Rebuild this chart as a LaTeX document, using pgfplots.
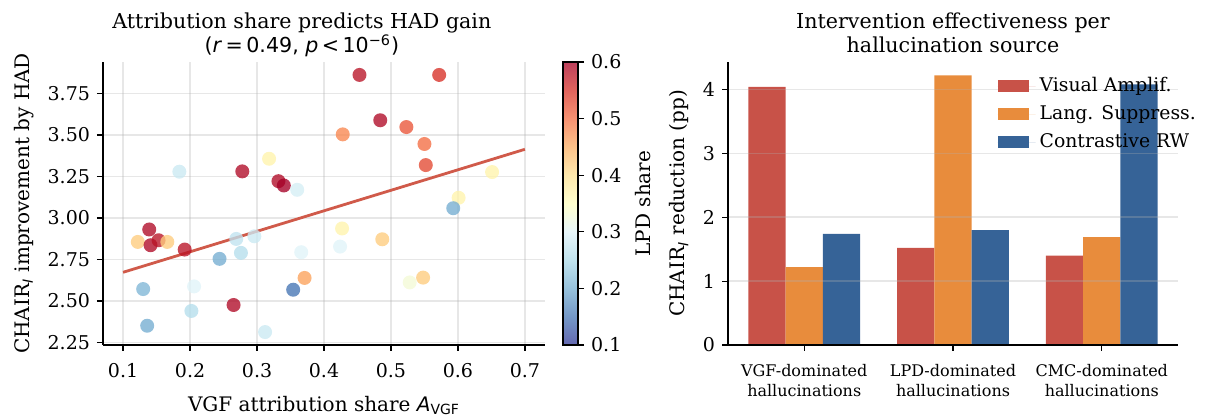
\documentclass[border=0pt]{standalone}
\usepackage{fontspec}
\setmainfont{DejaVu Serif}
\newfontfamily\dvs{DejaVu Sans}
\usepackage{pgfplots}
\pgfplotsset{compat=1.18}

\definecolor{gridc}{RGB}{176,176,176}
\definecolor{fitc}{RGB}{208,90,74}
\definecolor{cred}{RGB}{200,82,72}
\definecolor{corange}{RGB}{232,140,60}
\definecolor{cblue}{RGB}{54,99,151}

% RdYlBu reversed; the light one is what 0.75 alpha gives on white
\pgfplotsset{
  colormap={rdylbu}{rgb255=(49,54,149) rgb255=(69,117,180) rgb255=(116,173,209)
    rgb255=(171,217,233) rgb255=(224,243,248) rgb255=(255,255,191) rgb255=(254,224,144)
    rgb255=(253,174,97) rgb255=(244,109,67) rgb255=(215,48,39) rgb255=(165,0,38)},
  colormap={rdylbulight}{rgb255=(100,104,176) rgb255=(116,152,199) rgb255=(151,194,220)
    rgb255=(192,227,238) rgb255=(232,246,250) rgb255=(255,255,207) rgb255=(254,232,172)
    rgb255=(253,194,137) rgb255=(247,146,114) rgb255=(225,100,93) rgb255=(188,64,92)},
}

% attribution share (x), HAD gain (y), LPD share (c)
\pgfplotstableread{
x y c
0.184 3.279 0.28
0.278 3.281 0.59
0.318 3.357 0.37
0.332 3.222 0.59
0.340 3.196 0.60
0.360 3.170 0.29
0.139 2.931 0.59
0.122 2.856 0.42
0.141 2.836 0.59
0.153 2.866 0.58
0.166 2.856 0.42
0.192 2.810 0.58
0.269 2.874 0.27
0.296 2.890 0.28
0.276 2.790 0.26
0.366 2.794 0.30
0.244 2.754 0.20
0.371 2.639 0.46
0.130 2.572 0.21
0.206 2.588 0.30
0.354 2.568 0.15
0.265 2.476 0.59
0.202 2.440 0.26
0.136 2.351 0.20
0.312 2.313 0.28
0.453 3.862 0.58
0.572 3.862 0.55
0.484 3.589 0.59
0.523 3.548 0.52
0.428 3.504 0.48
0.550 3.446 0.50
0.552 3.319 0.53
0.651 3.277 0.37
0.601 3.122 0.37
0.593 3.059 0.20
0.427 2.937 0.37
0.424 2.828 0.30
0.487 2.872 0.42
0.548 2.641 0.42
0.528 2.612 0.33
}\scatterdata

\begin{document}
\begin{tikzpicture}
\useasboundingbox (-51.5pt,-35.5pt) rectangle (555.5pt,172.5pt);
\pgfplotsset{
  base/.style={
    scale only axis, height=141.5pt,
    axis lines*=left,
    axis line style={black, line width=0.6pt, -},
    tick style={black, line width=0.6pt},
    tick align=outside, major tick length=3pt,
    xtick pos=left, ytick pos=left,
    tick label style={font=\fontsize{9.5}{11}\selectfont},
    label style={font=\fontsize{10}{12}\selectfont},
    title style={font=\fontsize{10.3}{12}\selectfont, align=center},
    major grid style={gridc, opacity=0.3, line width=0.8pt},
    /pgf/number format/assume math mode=true,
  },
}
\begin{axis}[base, width=221pt, at={(0,0)}, anchor=south west,
  xmin=0.07, xmax=0.73, ymin=2.235, ymax=3.94,
  xtick={0.1,0.2,0.3,0.4,0.5,0.6,0.7},
  ytick={2.25,2.5,2.75,3,3.25,3.5,3.75},
  xticklabel style={yshift=-2.5pt, /pgf/number format/.cd, fixed, fixed zerofill, precision=1},
  yticklabel style={/pgf/number format/.cd, fixed, fixed zerofill, precision=2},
  xlabel style={yshift=-2.5pt},
  grid=major,
  xlabel={VGF attribution share {\dvs\itshape A}\textsubscript{\dvs VGF}},
  ylabel={CHAIR\textsubscript{\dvs\itshape I} improvement by HAD},
  title={Attribution share predicts HAD gain\\{\dvs(\textit{r}\,=\,0.49, \textit{p}\,<\,10\textsuperscript{−6})}},
  title style={at={(0.45,1)}, anchor=south, yshift=-7pt},
  colormap name=rdylbu,
  point meta min=0.1, point meta max=0.6,
  colorbar,
  colorbar style={
    colormap name=rdylbulight,
    at={(parent axis.north east)}, anchor=north west, xshift=0.5pt,
    width=7.5pt,
    axis line style={black, line width=0.6pt},
    tick style={black, line width=0.6pt},
    tick align=outside, major tick length=3pt,
    ytick pos=right, yticklabel pos=right,
    ytick={0.1,0.2,0.3,0.4,0.5,0.6},
    yticklabel style={font=\fontsize{9.5}{11}\selectfont,
      /pgf/number format/.cd, fixed, fixed zerofill, precision=1},
    ylabel={LPD share},
    ylabel style={font=\fontsize{10}{12}\selectfont},
    /pgf/number format/assume math mode=true,
  },
]
\addplot[scatter, only marks, mark=*, mark size=3.5pt, point meta=explicit,
  scatter/use mapped color={draw=mapped color, draw opacity=0, fill=mapped color, fill opacity=0.78}]
  table[x=x, y=y, meta=c] {\scatterdata};
\addplot[no marks, fitc, line width=1.4pt] coordinates {(0.1,2.673) (0.7,3.414)};
\end{axis}

\begin{axis}[base, width=225pt, at={(312.5pt,0)}, anchor=south west,
  axis on top,
  ybar=0pt, bar width=0.25,
  xmin=-0.5125, xmax=2.5125, ymin=0, ymax=4.43,
  xtick={0,1,2},
  xticklabels={{VGF-dominated\\hallucinations},{LPD-dominated\\hallucinations},{CMC-dominated\\hallucinations}},
  xticklabel style={align=center, yshift=-3pt, font=\fontsize{8}{10}\selectfont},
  ytick={0,1,2,3,4},
  ymajorgrids,
  ylabel={CHAIR\textsubscript{\dvs\itshape I} reduction (pp)},
  title={Intervention effectiveness per\\hallucination source},
  title style={yshift=-5pt},
  legend style={draw=none, fill=none, at={(0.585,0.975)}, anchor=north west,
    font=\fontsize{9.4}{11}\selectfont, row sep=1.5pt},
  legend cell align=left,
  legend image code/.code={\fill[#1] (0pt,-3pt) rectangle (15.5pt,3pt); \path (0pt,0pt) -- (19pt,0pt);},
]
\addplot[draw=none, fill=cred] coordinates {(0,4.04) (1,1.52) (2,1.40)};
\addplot[draw=none, fill=corange] coordinates {(0,1.22) (1,4.22) (2,1.69)};
\addplot[draw=none, fill=cblue] coordinates {(0,1.74) (1,1.80) (2,4.08)};
\legend{Visual Amplif., Lang. Suppress., Contrastive RW}
\end{axis}
\end{tikzpicture}
\end{document}
